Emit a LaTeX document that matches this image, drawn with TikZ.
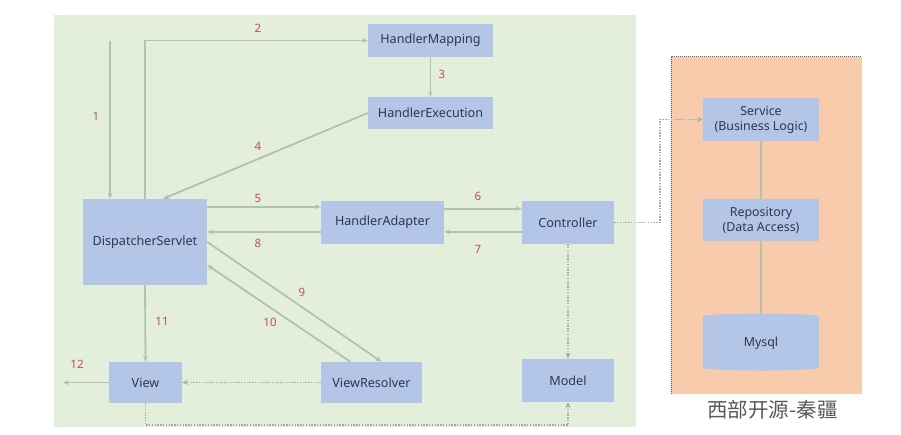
\documentclass[tikz,border=0pt]{standalone}
\usepackage{fontspec}
\setmainfont{Noto Sans}
\newfontfamily\cjk{Noto Sans CJK SC}
\usetikzlibrary{arrows.meta,shapes.geometric}
\definecolor{bggreen}{HTML}{E3EFDB}
\definecolor{bgorange}{HTML}{F8CBAD}
\definecolor{nodeblue}{HTML}{B4C6E7}
\definecolor{linec}{HTML}{B3C2AA}
\definecolor{dotc}{HTML}{A3AFA0}
\definecolor{numc}{HTML}{C0504D}
\definecolor{txtc}{HTML}{2B3753}
\tikzset{
  box/.style={fill=nodeblue, inner sep=0pt, text=txtc, font=\fontsize{12.6}{14}\selectfont, align=center},
  boxsm/.style={box, font=\fontsize{12.4}{15}\selectfont},
  arr/.style={draw=linec, line width=1.8pt, -{Stealth[length=6pt,width=5pt]}},
  dotarr/.style={draw=dotc, line width=1.9pt, dash pattern=on 1.4pt off 1.4pt, -{Stealth[length=6pt,width=5pt]}},
  plainln/.style={draw=linec, line width=1.8pt},
  num/.style={text=numc, font=\fontsize{11.5}{12}\selectfont, inner sep=0pt},
}
\begin{document}
\begin{tikzpicture}[x=1pt,y=-1pt]
\useasboundingbox (0,0) rectangle (901,435);
\fill[white] (0,0) rectangle (901,435);
\fill[bggreen] (54,15) rectangle (636,427);
\fill[bgorange] (671,57) rectangle (862,394);
\draw[gray!75!black, line width=1pt, dash pattern=on 1pt off 1pt] (671,394) -- (671,57) -- (862,57);

\node[box, minimum width=124pt, minimum height=86pt] (DS) at (145,242) {DispatcherServlet};
\node[box, minimum width=125pt, minimum height=33pt] (HM) at (430.5,40.5) {HandlerMapping};
\node[box, minimum width=125pt, minimum height=32pt] (HE) at (430.5,113) {HandlerExecution};
\node[box, minimum width=123pt, minimum height=43pt] (HA) at (382.5,222.5) {HandlerAdapter};
\node[box, minimum width=92pt, minimum height=43pt] (C) at (568,222.5) {Controller};
\node[box, minimum width=101pt, minimum height=41pt] (VR) at (371.5,382.5) {ViewResolver};
\node[box, minimum width=73pt, minimum height=41pt] (V) at (145.5,382.5) {View};
\node[box, minimum width=92pt, minimum height=43pt] (M) at (568,380.5) {Model};
\node[boxsm, minimum width=116pt, minimum height=43pt] (S) at (761,119.5) {Service\\(Business Logic)};
\node[boxsm, minimum width=116pt, minimum height=42pt] (R) at (761,220) {Repository\\(Data Access)};
\node[boxsm, cylinder, shape border rotate=90, aspect=0.16, minimum width=116pt, minimum height=57pt] (DB) at (761,343.5) {Mysql};

\node[font=\cjk\fontsize{20.5}{24}\selectfont, text=black!65, inner sep=0pt] (title) at (772.5,410) {西部开源-秦疆};

\coordinate (in1) at (110,41);
\coordinate (out12) at (63,382.5);
\coordinate (vb) at (145.5,425);
\coordinate (cr) at (660,222.5);

% 1
\draw[arr] (in1) -- (in1 |- DS.north);
\node[num] (n1) at (96,116) {1};
% 2
\draw[arr] (DS.north) |- (HM.west);
\node[num] (n2) at (258,28) {2};
% 3
\draw[draw=linec, line width=1pt, -{Stealth[length=5pt,width=4pt]}] (HM.south) -- (HE.north);
\node[num] (n3) at (442,74) {3};
% 4
\draw[arr] (HE.west) -- ([xshift=18pt]DS.north);
\node[num] (n4) at (258,146) {4};
% 5
\draw[arr] ([yshift=-8pt]DS.north east) -- ([yshift=-6pt]HA.north west);
\node[num] (n5) at (258,198) {5};
% 8
\draw[arr] ([yshift=-31pt]HA.north west) -- ([yshift=-33pt]DS.north east);
\node[num] (n8) at (258,243) {8};
% 6
\draw[arr] ([yshift=-8pt]HA.north east) -- ([yshift=-8pt]C.north west);
\node[num] (n6) at (478,196) {6};
% 7
\draw[arr] ([yshift=-31pt]C.north west) -- ([yshift=-31pt]HA.north east);
\node[num] (n7) at (478,249) {7};
% 9
\draw[arr] (DS.east) -- ([xshift=10pt]VR.north);
\node[num] (n9) at (302,292) {9};
% 10
\draw[arr] ([xshift=-21pt]VR.north) -- ([yshift=-23pt]DS.east);
\node[num] (n10) at (270,322) {10};
% 11
\draw[arr] (DS.south) -- (V.north);
\node[num] (n11) at (162,321) {11};
% 12
\draw[arr] (V.west) -- (out12);
\node[num] (n12) at (77,364) {12};
% dotted
\draw[dotarr] (VR.west) -- (V.east);
\draw[dotarr] (V.south) -- (vb) -| (M.south);
\draw[dotarr] (C.south) -- (M.north);
\draw[dotarr] (C.east) -- (cr) |- (S.west);
% service chain
\draw[plainln] (S.south) -- (R.north);
\draw[plainln] (R.south) -- (DB.north);
\end{tikzpicture}
\end{document}
